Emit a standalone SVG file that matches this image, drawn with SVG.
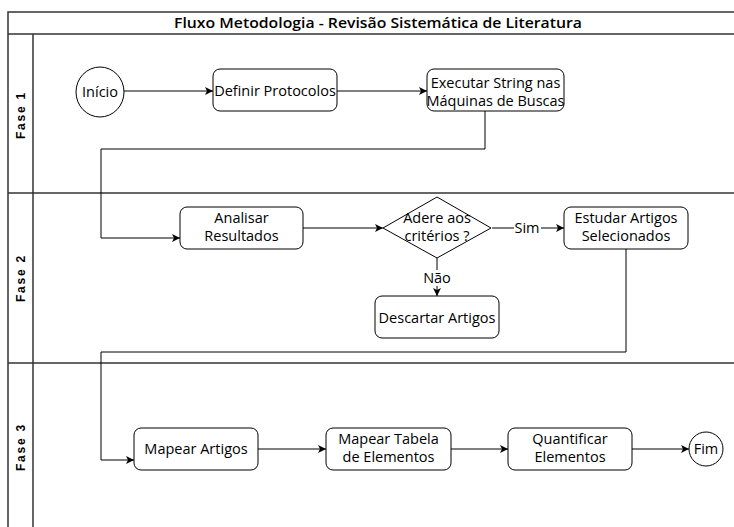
<svg xmlns="http://www.w3.org/2000/svg" width="734" height="527" viewBox="0 0 734 527">
<defs>
<marker id="arr" viewBox="0 0 10 10" refX="10" refY="5" markerWidth="8" markerHeight="8" markerUnits="userSpaceOnUse" orient="auto">
<path d="M0,0 L10,5 L0,10 L2.5,5 Z" fill="#000"/>
</marker>
</defs>
<style>
.frame{fill:none;stroke:#333;stroke-width:1.5}
.node{fill:#fff;stroke:#000;stroke-width:1}
.lbl{font-family:"Open Sans","Liberation Sans",Arial,sans-serif;font-size:14.5px;fill:#000;text-anchor:middle}
.lane{font-family:"Liberation Sans",Arial,sans-serif;font-size:12px;font-weight:bold;letter-spacing:1.8px;fill:#000;text-anchor:middle}
.title{font-family:"Open Sans","Liberation Sans",Arial,sans-serif;font-size:15px;font-weight:600;fill:#000;text-anchor:middle}
.edge{fill:none;stroke:#000;stroke-width:1}
</style>
<rect width="734" height="527" fill="#fff"/>
<g id="pool">
<rect class="frame" x="8" y="12" width="730" height="530"/>
<line class="frame" x1="8" y1="34" x2="738" y2="34"/>
<line class="frame" x1="8" y1="193" x2="738" y2="193"/>
<line class="frame" x1="8" y1="363" x2="738" y2="363"/>
<line class="frame" x1="33" y1="34" x2="33" y2="527"/>
<text class="title" x="378" y="28" textLength="408" lengthAdjust="spacingAndGlyphs">Fluxo Metodologia - Revisão Sistemática de Literatura</text>
<text class="lane" transform="translate(25,115) rotate(-90)">Fase 1</text>
<text class="lane" transform="translate(25,278) rotate(-90)">Fase 2</text>
<text class="lane" transform="translate(25,447) rotate(-90)">Fase 3</text>
</g>
<g id="connectors">
<line class="edge" x1="124" y1="91" x2="213" y2="91" marker-end="url(#arr)"/>
<line class="edge" x1="337" y1="91" x2="427" y2="91" marker-end="url(#arr)"/>
<polyline class="edge" points="485,111 485,149 101,149 101,238 180,238" marker-end="url(#arr)"/>
<line class="edge" x1="303" y1="228" x2="383" y2="228" marker-end="url(#arr)"/>
<line class="edge" x1="492" y1="228" x2="564" y2="228" marker-end="url(#arr)"/>
<line class="edge" x1="437" y1="258" x2="437" y2="296" marker-end="url(#arr)"/>
<polyline class="edge" points="626,249 626,352 101,352 101,460 134,460" marker-end="url(#arr)"/>
<line class="edge" x1="258" y1="449" x2="326" y2="449" marker-end="url(#arr)"/>
<line class="edge" x1="451" y1="449" x2="508" y2="449" marker-end="url(#arr)"/>
<line class="edge" x1="632" y1="449" x2="689" y2="449" marker-end="url(#arr)"/>
<rect x="514" y="220" width="27" height="16" fill="#fff"/>
<text class="lbl" x="527" y="233">Sim</text>
<rect x="423" y="270" width="29" height="16" fill="#fff"/>
<text class="lbl" x="437" y="283">Não</text>
</g>
<g id="inicio">
<ellipse class="node" cx="100" cy="92" rx="24" ry="25"/>
<text class="lbl" x="100" y="97">Início</text>
</g>
<g id="definir">
<rect class="node" x="213" y="69" width="124" height="42" rx="7"/>
<text class="lbl" x="275" y="96">Definir Protocolos</text>
</g>
<g id="executar">
<rect class="node" x="427" y="69" width="137" height="42" rx="7"/>
<text class="lbl" x="495.5" y="88">Executar String nas</text>
<text class="lbl" x="495.5" y="106">Máquinas de Buscas</text>
</g>
<g id="analisar">
<rect class="node" x="180" y="207" width="123" height="42" rx="7"/>
<text class="lbl" x="241.5" y="223">Analisar</text>
<text class="lbl" x="241.5" y="241">Resultados</text>
</g>
<g id="adere">
<polygon class="node" points="437,197 491,228 437,258 383,228"/>
<text class="lbl" x="437" y="223">Adere aos</text>
<text class="lbl" x="437" y="241">critérios  ?</text>
</g>
<g id="estudar">
<rect class="node" x="564" y="207" width="124" height="42" rx="7"/>
<text class="lbl" x="626" y="223">Estudar Artigos</text>
<text class="lbl" x="626" y="241">Selecionados</text>
</g>
<g id="descartar">
<rect class="node" x="375" y="296" width="124" height="42" rx="7"/>
<text class="lbl" x="437" y="323">Descartar Artigos</text>
</g>
<g id="mapear-artigos">
<rect class="node" x="134" y="428" width="124" height="42" rx="7"/>
<text class="lbl" x="196" y="454">Mapear Artigos</text>
</g>
<g id="mapear-tabela">
<rect class="node" x="326" y="428" width="125" height="42" rx="7"/>
<text class="lbl" x="388.5" y="444">Mapear Tabela</text>
<text class="lbl" x="388.5" y="462">de Elementos</text>
</g>
<g id="quantificar">
<rect class="node" x="508" y="428" width="124" height="42" rx="7"/>
<text class="lbl" x="570" y="444">Quantificar</text>
<text class="lbl" x="570" y="462">Elementos</text>
</g>
<g id="fim">
<ellipse class="node" cx="706" cy="449" rx="17" ry="17"/>
<text class="lbl" x="706" y="454">Fim</text>
</g>
</svg>
